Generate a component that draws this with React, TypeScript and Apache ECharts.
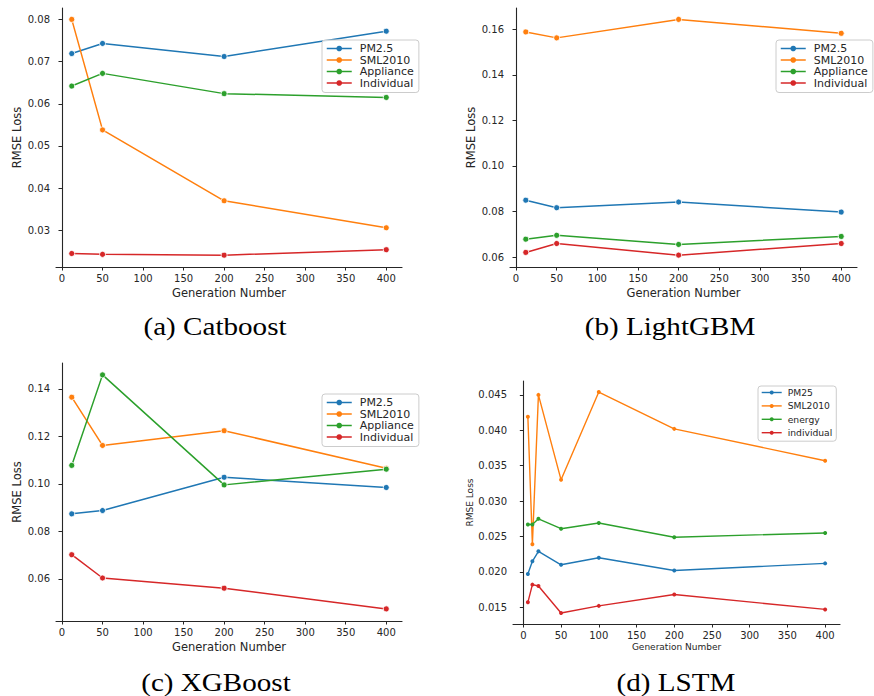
import React, { useEffect, useRef } from "react";
import * as echarts from "echarts";

// ---- Data ----
const genTree = [12, 50, 200, 400];
const genLstm = [6, 12, 20, 50, 100, 200, 400];

const treeNames = ["PM2.5", "SML2010", "Appliance", "Individual"];
const lstmNames = ["PM25", "SML2010", "energy", "individual"];
const colors = ["#1f77b4", "#ff7f0e", "#2ca02c", "#d62728"];

// (a) Catboost
const catPM = [0.0719, 0.0743, 0.0712, 0.0772];
const catSML = [0.0800, 0.0538, 0.0370, 0.0306];
const catApp = [0.0642, 0.0672, 0.0624, 0.0615];
const catInd = [0.0245, 0.0243, 0.0241, 0.0254];

// (b) LightGBM
const lgbPM = [0.0850, 0.0817, 0.0842, 0.0798];
const lgbSML = [0.1588, 0.1562, 0.1643, 0.1582];
const lgbApp = [0.0679, 0.0696, 0.0656, 0.0691];
const lgbInd = [0.0621, 0.0660, 0.0609, 0.0660];

// (c) XGBoost
const xgbPM = [0.0874, 0.0888, 0.1028, 0.0985];
const xgbSML = [0.1365, 0.1162, 0.1224, 0.1066];
const xgbApp = [0.1078, 0.1459, 0.0996, 0.1062];
const xgbInd = [0.0702, 0.0604, 0.0561, 0.0474];

// (d) LSTM
const lstmPM = [0.0197, 0.0215, 0.0229, 0.0210, 0.0220, 0.0202, 0.0212];
const lstmSML = [0.0419, 0.0239, 0.0450, 0.0330, 0.0454, 0.0402, 0.0357];
const lstmEnergy = [0.0267, 0.0267, 0.0275, 0.0261, 0.0269, 0.0249, 0.0255];
const lstmInd = [0.0157, 0.0182, 0.0180, 0.0142, 0.0152, 0.0168, 0.0147];

const xTicks = [0, 50, 100, 150, 200, 250, 300, 350, 400];
const yTicksA = [0.03, 0.04, 0.05, 0.06, 0.07, 0.08];
const yTicksB = [0.06, 0.08, 0.10, 0.12, 0.14, 0.16];
const yTicksC = [0.06, 0.08, 0.10, 0.12, 0.14];
const yTicksD = [0.015, 0.020, 0.025, 0.030, 0.035, 0.040, 0.045];

const captions = ["(a) Catboost", "(b) LightGBM", "(c) XGBoost", "(d) LSTM"];

const TXT = "#262626";
const SANS = "DejaVu Sans";

function pairs(xs: number[], ys: number[]) {
  return xs.map((x, i) => [x, ys[i]]);
}

export default function App() {
  const ref = useRef<HTMLDivElement>(null);
  useEffect(() => {
    if (!ref.current) return;
    const chart = echarts.init(ref.current, undefined, { renderer: "svg" });

    const grids = [
      { left: 56, top: 8, width: 346, height: 259 },
      { left: 510, top: 8, width: 347, height: 259 },
      { left: 56, top: 363, width: 346, height: 258 },
      { left: 513, top: 381, width: 327, height: 243 },
    ];
    const xRanges = [
      [-7.4, 419.4],
      [-7.4, 419.4],
      [-7.4, 419.4],
      [-13.7, 419.7],
    ];
    const yRanges = [
      [0.0213, 0.0827],
      [0.0557, 0.1693],
      [0.0423, 0.1509],
      [0.01264, 0.04696],
    ];
    const yTicks = [yTicksA, yTicksB, yTicksC, yTicksD];
    const yDec = [2, 2, 2, 3];
    const titleSize = [11.5, 11.5, 11.5, 9];
    const yNameGap = [33, 33, 33, 36];

    const axisLine = { show: true, lineStyle: { color: TXT, width: 1.1 } };
    const axisTick = (vals: number[]) => ({
      show: true,
      length: 3.5,
      lineStyle: { color: TXT, width: 1 },
      customValues: vals,
    });

    const xAxis = grids.map((_, i) => ({
      type: "value",
      gridIndex: i,
      min: xRanges[i][0],
      max: xRanges[i][1],
      axisLine,
      axisTick: axisTick(xTicks),
      axisLabel: {
        customValues: xTicks,
        color: TXT,
        fontFamily: SANS,
        fontSize: 10,
        margin: 6,
      },
      splitLine: { show: false },
      name: "Generation Number",
      nameLocation: "middle",
      nameGap: i === 3 ? 18 : 20,
      nameTextStyle: { color: TXT, fontFamily: SANS, fontSize: titleSize[i] },
    }));

    const yAxis = grids.map((_, i) => ({
      type: "value",
      gridIndex: i,
      min: yRanges[i][0],
      max: yRanges[i][1],
      axisLine,
      axisTick: axisTick(yTicks[i]),
      axisLabel: {
        customValues: yTicks[i],
        formatter: (v: number) => v.toFixed(yDec[i]),
        color: TXT,
        fontFamily: SANS,
        fontSize: 10,
        margin: 6,
      },
      splitLine: { show: false },
      name: "RMSE Loss",
      nameLocation: "middle",
      nameGap: yNameGap[i],
      nameTextStyle: { color: TXT, fontFamily: SANS, fontSize: titleSize[i] },
    }));

    const treeSets = [
      [catPM, catSML, catApp, catInd],
      [lgbPM, lgbSML, lgbApp, lgbInd],
      [xgbPM, xgbSML, xgbApp, xgbInd],
    ];
    const series: any[] = [];
    treeSets.forEach((set, gi) => {
      set.forEach((vals, si) => {
        series.push({
          type: "line",
          name: treeNames[si],
          xAxisIndex: gi,
          yAxisIndex: gi,
          data: pairs(genTree, vals),
          symbol: "circle",
          symbolSize: 6,
          lineStyle: { color: colors[si], width: 1.5 },
          itemStyle: { color: colors[si], borderColor: "#ffffff", borderWidth: 0.8 },
          emphasis: { disabled: true },
        });
      });
    });
    [lstmPM, lstmSML, lstmEnergy, lstmInd].forEach((vals, si) => {
      series.push({
        type: "line",
        name: lstmNames[si],
        xAxisIndex: 3,
        yAxisIndex: 3,
        data: pairs(genLstm, vals),
        symbol: "circle",
        symbolSize: 4,
        lineStyle: { color: colors[si], width: 1.4 },
        itemStyle: { color: colors[si] },
        emphasis: { disabled: true },
      });
    });

    const legendBase = {
      orient: "vertical",
      backgroundColor: "rgba(255,255,255,0.8)",
      borderColor: "#cccccc",
      borderWidth: 1,
      borderRadius: 3,
      selectedMode: false,
      itemStyle: { borderWidth: 0 },
      lineStyle: { width: 1.5 },
    };
    const treeLegend = {
      padding: [3, 5, 4, 4],
      itemWidth: 25,
      itemHeight: 7,
      itemGap: 0.5,
      data: treeNames,
      textStyle: {
        color: TXT,
        fontFamily: SANS,
        fontSize: 11,
        lineHeight: 11,
        padding: [0, 0, 0, 3],
      },
    };
    const legend = [
      { ...legendBase, ...treeLegend, left: 322, top: 40 },
      { ...legendBase, ...treeLegend, left: 776, top: 40 },
      { ...legendBase, ...treeLegend, left: 322, top: 394 },
      {
        ...legendBase,
        left: 758,
        top: 386,
        padding: [2, 4, 4, 3],
        itemWidth: 20,
        itemHeight: 5,
        itemGap: 4.4,
        data: lstmNames,
        lineStyle: { width: 1.4 },
        textStyle: { color: TXT, fontFamily: SANS, fontSize: 9.2, padding: [0, 0, 0, 1] },
      },
    ];

    const capPos = [
      [215, 326],
      [670, 326],
      [216, 682],
      [676, 682],
    ];
    const graphic = captions.map((t, i) => ({
      type: "text",
      x: capPos[i][0],
      y: capPos[i][1],
      scaleX: 1.12,
      silent: true,
      style: {
        text: t,
        x: 0,
        y: 0,
        textAlign: "center",
        textVerticalAlign: "middle",
        fontFamily: "Liberation Serif",
        fontSize: 26,
        fill: "#000000",
      },
    }));

    chart.setOption({
      animation: false,
      backgroundColor: "#ffffff",
      grid: grids,
      xAxis,
      yAxis,
      series,
      legend,
      graphic,
    });
    return () => chart.dispose();
  }, []);

  return (
    <div
      ref={ref}
      style={{ position: "fixed", left: 0, top: 0, width: 874, height: 696 }}
    />
  );
}
